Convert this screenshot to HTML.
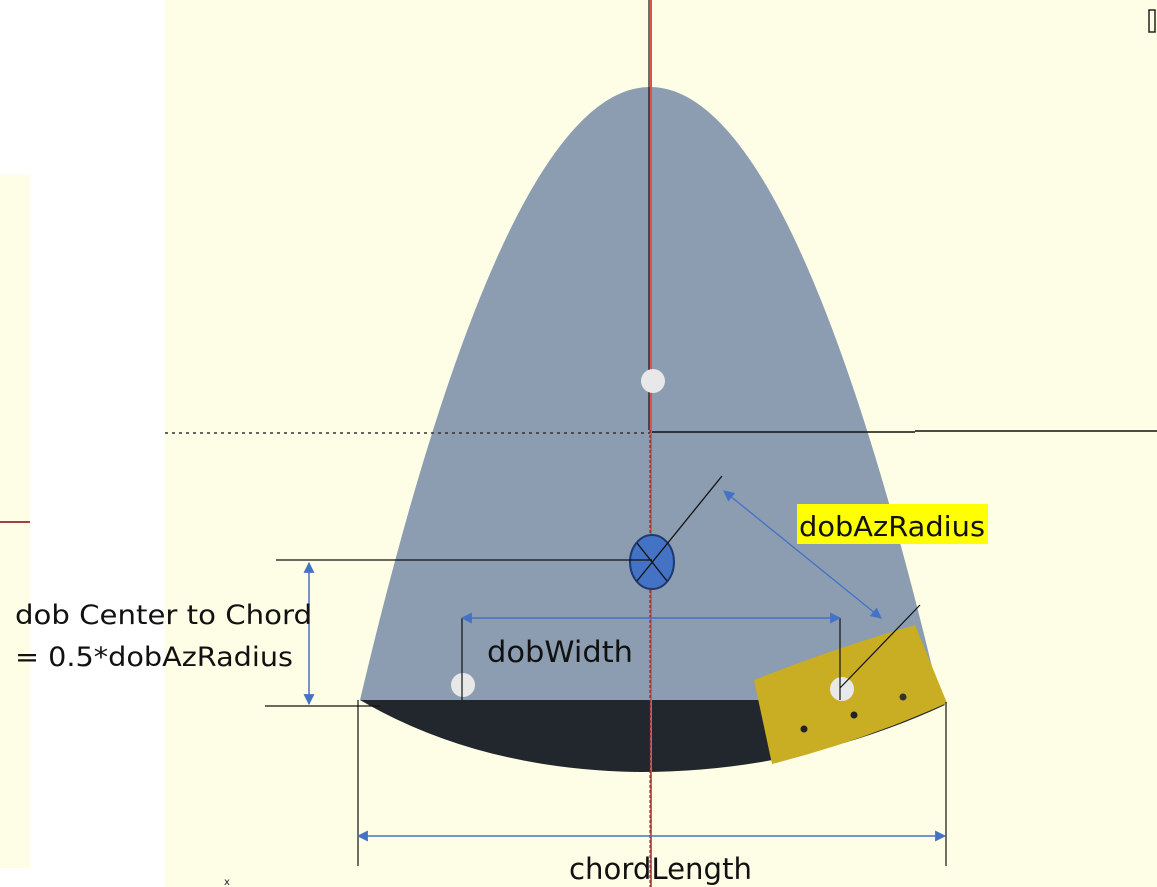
<!DOCTYPE html>
<html><head><meta charset="utf-8"><style>
html,body{margin:0;padding:0;width:1157px;height:887px;overflow:hidden;background:#fff}
svg{display:block}
text{font-family:"DejaVu Sans","Liberation Sans",sans-serif}
</style></head><body>
<svg width="1157" height="887" viewBox="0 0 1157 887" xmlns="http://www.w3.org/2000/svg">
<defs>
<marker id="a" viewBox="0 0 10 10" refX="9" refY="5" markerWidth="14" markerHeight="11" orient="auto-start-reverse" markerUnits="userSpaceOnUse"><path d="M0,0L10,5L0,10z" fill="#4472c4"/></marker>
</defs>
<rect x="0" y="175" width="30" height="693" fill="#fefee6"/>
<line x1="0" y1="522" x2="30" y2="522" stroke="#a04040" stroke-width="2"/>
<rect x="165" y="0" width="992" height="887" fill="#fefee6"/>
<path d="M360,700 Q650,-526 940,700 Z" fill="#8c9db2"/>
<path d="M360,700 L940,700 L945,705 Q800,772 640,772 Q480,770 360,700 Z" fill="#22272d"/>
<path d="M754,680 Q835,648 915,625 L947,703 Q860,742 772,764 Z" fill="#c9ad22"/>
<circle cx="804" cy="729" r="3.5" fill="#222"/>
<circle cx="854" cy="715" r="3.5" fill="#222"/>
<circle cx="903" cy="697" r="3.5" fill="#333"/>
<line x1="165" y1="433" x2="650" y2="433" stroke="#333" stroke-width="1.5" stroke-dasharray="3,4"/>
<line x1="650" y1="432" x2="915" y2="432" stroke="#111" stroke-width="1.5"/>
<line x1="915" y1="431" x2="1157" y2="431" stroke="#111" stroke-width="1.5"/>
<line x1="651" y1="0" x2="651" y2="887" stroke="#e05050" stroke-width="2"/>
<line x1="649" y1="0" x2="649" y2="430" stroke="#111" stroke-width="1.2"/>
<line x1="650" y1="430" x2="650" y2="887" stroke="#333" stroke-width="1" stroke-dasharray="3,2"/>
<rect x="1149" y="10" width="6" height="22" fill="none" stroke="#222" stroke-width="1.5"/>
<circle cx="653" cy="381" r="12" fill="#e8e8e8"/>
<circle cx="463" cy="685" r="12" fill="#e8e8e8"/>
<circle cx="842" cy="689" r="12" fill="#e8e8e8"/>
<ellipse cx="652" cy="562" rx="22" ry="27" fill="#4472c4" stroke="#1f3a70" stroke-width="2"/>
<line x1="637" y1="543" x2="667" y2="581" stroke="#111" stroke-width="1.3"/>
<line x1="637" y1="581" x2="722" y2="476" stroke="#111" stroke-width="1.3"/>
<line x1="276" y1="560" x2="652" y2="560" stroke="#111" stroke-width="1.2"/>
<line x1="265" y1="706" x2="380" y2="706" stroke="#111" stroke-width="1.2"/>
<line x1="309" y1="563" x2="309" y2="704" stroke="#4472c4" stroke-width="1.5" marker-start="url(#a)" marker-end="url(#a)"/>
<line x1="462" y1="618" x2="462" y2="700" stroke="#111" stroke-width="1.2"/>
<line x1="840" y1="618" x2="840" y2="700" stroke="#111" stroke-width="1.2"/>
<line x1="462" y1="618" x2="840" y2="618" stroke="#4472c4" stroke-width="1.5" marker-start="url(#a)" marker-end="url(#a)"/>
<line x1="724" y1="491" x2="881" y2="618" stroke="#4472c4" stroke-width="1.3" marker-start="url(#a)" marker-end="url(#a)"/>
<line x1="840" y1="688" x2="920" y2="605" stroke="#111" stroke-width="1.2"/>
<rect x="797" y="504" width="191" height="40" fill="#ffff00"/>
<text x="799" y="536" font-size="28" fill="#111" textLength="186" lengthAdjust="spacingAndGlyphs">dobAzRadius</text>
<line x1="358" y1="700" x2="358" y2="866" stroke="#111" stroke-width="1.2"/>
<line x1="946" y1="702" x2="946" y2="866" stroke="#111" stroke-width="1.2"/>
<line x1="358" y1="836" x2="945" y2="836" stroke="#4472c4" stroke-width="1.5" marker-start="url(#a)" marker-end="url(#a)"/>
<text x="487" y="662" font-size="29" fill="#111" textLength="146" lengthAdjust="spacingAndGlyphs">dobWidth</text>
<text x="569" y="879" font-size="29" fill="#111" textLength="183" lengthAdjust="spacingAndGlyphs">chordLength</text>
<text x="15" y="624" font-size="27" fill="#111" textLength="297" lengthAdjust="spacingAndGlyphs">dob Center to Chord</text>
<text x="15" y="666" font-size="27" fill="#111" textLength="278" lengthAdjust="spacingAndGlyphs">= 0.5*dobAzRadius</text>
<text x="224" y="885" font-size="10" fill="#222">x</text>
</svg>
</body></html>
